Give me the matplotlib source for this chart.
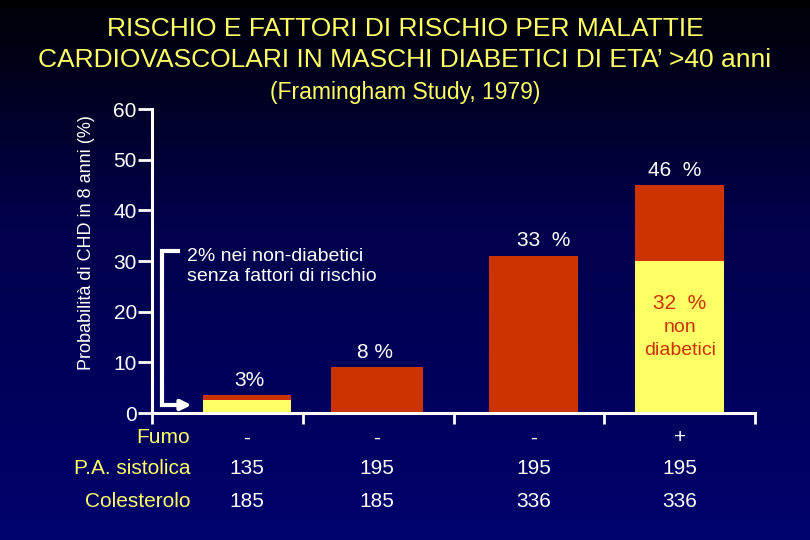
import numpy as np
import matplotlib
matplotlib.use("Agg")
import matplotlib.pyplot as plt
from matplotlib.colors import LinearSegmentedColormap
import matplotlib.transforms as mtransforms

plt.rcParams['font.family'] = ['Liberation Sans', 'DejaVu Sans']

#Data:-------------------------------------------------------------------------

yellow_part = [2.5, 0, 0, 30]
red_part = [1.0, 9, 31, 15]
bar_labels = ['3%', '8 %', '33  %', '46  %']
row_names = ['Fumo', 'P.A. sistolica', 'Colesterolo']
fumo = ['-', '-', '-', '+']
pa_sistolica = ['135', '195', '195', '195']
colesterolo = ['185', '185', '336', '336']
y_ticks = [0, 10, 20, 30, 40, 50, 60]

#Style:------------------------------------------------------------------------

red = '#cc3300'
yellow = '#ffff66'
bar_pos = [0.13, 0.99, 2.03, 3.0]
bar_width = [0.59, 0.61, 0.59, 0.59]
label_dx = [2, -2, 10, -5]

fig = plt.figure(figsize=(8.1, 5.4), dpi=100)

#Background gradient:----------------------------------------------------------

bg = fig.add_axes([0, 0, 1, 1], zorder=-1)
cmap_bg = LinearSegmentedColormap.from_list('bg', [(0, '#000004'), (0.4, '#00004a'), (1, '#00006c')])
grad = np.linspace(0, 1, 256).reshape(-1, 1)
bg.imshow(grad, aspect='auto', cmap=cmap_bg, extent=[0, 1, 1, 0])
bg.axis('off')

#Bars:-------------------------------------------------------------------------

ax = fig.add_axes([0.1877, 0.235, 0.7444, 0.563])
ax.set_facecolor('none')

ax.bar(bar_pos, yellow_part, width=bar_width, color=yellow, zorder=2)
ax.bar(bar_pos, red_part, width=bar_width, bottom=yellow_part, color=red, zorder=2)

totals = np.array(yellow_part) + np.array(red_part)
for x, h, lab, dx in zip(bar_pos, totals, bar_labels, label_dx):
    ax.annotate(lab, (x, h), xytext=(dx * 0.72, 4), textcoords='offset points',
                ha='center', va='bottom', color='white', fontsize=15)

ax.text(bar_pos[3], 21.7, '32  %', color=red, ha='center', va='center', fontsize=15)
ax.text(bar_pos[3], 16.8, 'non', color=red, ha='center', va='center', fontsize=14)
ax.text(bar_pos[3], 12.4, 'diabetici', color=red, ha='center', va='center', fontsize=14)

#Axes:-------------------------------------------------------------------------

ax.set_xlim(-0.5, 3.5)
ax.set_ylim(0, 60)
for side in ['top', 'right']:
    ax.spines[side].set_visible(False)
for side in ['left', 'bottom']:
    ax.spines[side].set_color('white')
    ax.spines[side].set_linewidth(2.2)
ax.set_xticks(np.arange(-0.5, 4, 1))
ax.set_xticklabels([])
ax.set_yticks(y_ticks)
ax.tick_params(axis='x', colors='white', length=8, width=2, direction='out')
ax.tick_params(axis='y', colors='white', length=10, width=2, pad=1, labelsize=15)
ax.set_ylabel('Probabilità di CHD in 8 anni (%)', color='white', fontsize=13)
ax.yaxis.set_label_coords(-0.095, 0.5625)

#Annotation arrow:-------------------------------------------------------------

ax.plot([-0.33, -0.435, -0.435], [32, 32, 1.6], color='white', lw=3, clip_on=False,
        solid_joinstyle='miter')
ax.annotate('', xy=(-0.22, 1.6), xytext=(-0.437, 1.6),
            arrowprops=dict(arrowstyle='-|>', color='white', lw=3, mutation_scale=15),
            annotation_clip=False)
ax.text(-0.27, 29.0, '2% nei non-diabetici\nsenza fattori di rischio', color='white',
        fontsize=14, ha='left', va='center', linespacing=1.25)

#Table under the chart:--------------------------------------------------------

trans = mtransforms.blended_transform_factory(ax.transData, fig.transFigure)
row_y = [0.189, 0.133, 0.071]
for y, name, vals in zip(row_y, row_names, [fumo, pa_sistolica, colesterolo]):
    fig.text(0.235, y, name, color=yellow, ha='right', va='center', fontsize=15)
    for x, v in zip(bar_pos, vals):
        ax.text(x, y, v, transform=trans, color='white', ha='center', va='center',
                fontsize=15, clip_on=False)

#Titles:-----------------------------------------------------------------------

fig.text(0.5, 0.947, 'RISCHIO E FATTORI DI RISCHIO PER MALATTIE', color=yellow,
         ha='center', va='center', fontsize=19)
fig.text(0.5, 0.888, 'CARDIOVASCOLARI IN MASCHI DIABETICI DI ETA\u2019 >40 anni', color=yellow,
         ha='center', va='center', fontsize=19)
fig.text(0.5, 0.829, '(Framingham Study, 1979)', color=yellow,
         ha='center', va='center', fontsize=16.5)

fig.savefig('out.png', dpi=100)
